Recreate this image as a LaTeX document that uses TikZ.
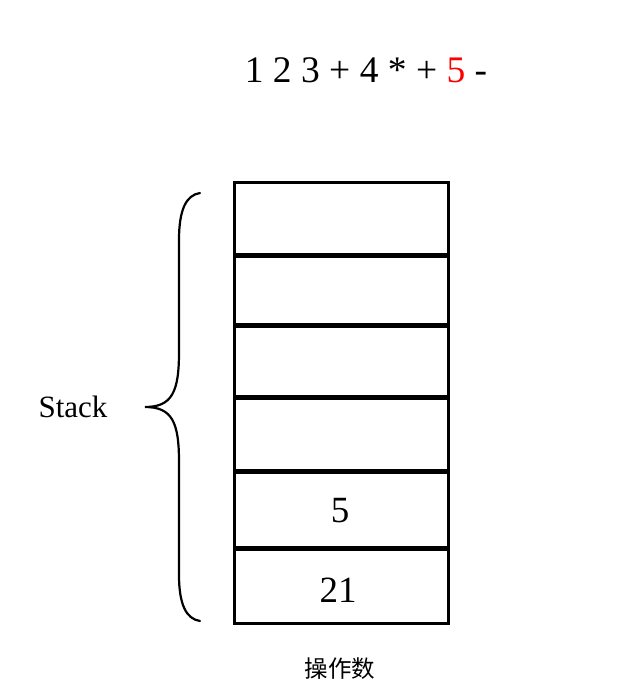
\documentclass[tikz,border=0pt]{standalone}
\usepackage{fontspec}
\setmainfont{Liberation Serif}
\newfontfamily\cjk{Noto Sans CJK SC}
\begin{document}
\begin{tikzpicture}[x=1pt,y=-1pt,
  cell/.style={draw=black,line width=3pt,minimum width=214pt,inner sep=0pt,outer sep=0pt},
  divider/.style={line width=5pt},
  bracestyle/.style={line width=2.2pt,line cap=round},
  lbl/.style={inner sep=0pt,anchor=base}]
\useasboundingbox (0,0) rectangle (617,691);
% cells (top to bottom)
\node[cell,minimum height=72.5pt] (c1) at (341,218.75) {};
\node[cell,minimum height=70.5pt] (c2) at (341,290.25) {};
\node[cell,minimum height=72pt]   (c3) at (341,361.5) {};
\node[cell,minimum height=74pt]   (c4) at (341,434.5) {};
\node[cell,minimum height=76.5pt] (c5) at (341,509.75) {};
\node[cell,minimum height=75pt]   (c6) at (341,585.5) {};
% text in cells
\node[lbl,font=\fontsize{37}{37}\selectfont] (t5) at (340,522) {5};
\node[lbl,font=\fontsize{37}{37}\selectfont] (t21) at (338,602) {21};
% thick dividers
\draw[divider] (c1.south west) -- (c1.south east);
\draw[divider] (c2.south west) -- (c2.south east);
\draw[divider] (c3.south west) -- (c3.south east);
\draw[divider] (c4.south west) -- (c4.south east);
\draw[divider] (c5.south west) -- (c5.south east);
% outer border redrawn
\draw[line width=3pt] (c1.north west) rectangle (c6.south east);
% expression
\node[lbl,font=\fontsize{37.5}{37.5}\selectfont] (expr) at (366,82) {1 2 3 + 4 * + \textcolor{red}{5} -};
% brace
\coordinate (btop) at (200,193);
\coordinate (btip) at (145,407);
\coordinate (bbot) at (200,621);
\draw[bracestyle] (btop) .. controls (186,195) and (179,210) .. (179,240) -- (179,352)
  .. controls (179,392) and (172,407) .. (btip)
  .. controls (172,407) and (179,422) .. (179,462) -- (179,575)
  .. controls (179,604) and (186,619) .. (bbot);
% labels
\node[lbl,font=\fontsize{31}{31}\selectfont] (stack) at (73,417) {Stack};
\node[lbl,font=\cjk\fontsize{23.5}{23.5}\selectfont] (ops) at (340,677) {操作数};
\end{tikzpicture}
\end{document}
